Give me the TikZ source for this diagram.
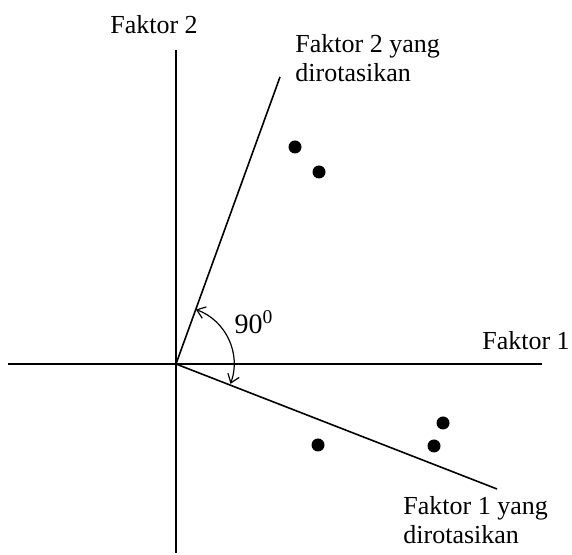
\documentclass[tikz,border=0pt]{standalone}
\usepackage{fontspec}
\setmainfont{Liberation Serif}
\usetikzlibrary{arrows.meta}
\tikzset{
    x=0.5pt, y=0.5pt,
    axis/.style={line width=1pt},
    rotaxis/.style={line width=0.8pt},
    dot/.style={circle, fill=black, inner sep=0pt, minimum size=6.5pt},
    lbl/.style={inner sep=0pt, font=\fontsize{13}{14.5}\selectfont},
    turn/.style={line width=0.6pt, {Straight Barb[length=4pt,width=6pt]}-{Straight Barb[length=4pt,width=6pt]}},
}

\begin{document}
\begin{tikzpicture}
    \useasboundingbox (0,0) rectangle (572,555);
    \coordinate (o) at (176,191);

    % axes
    \coordinate (x0) at (8,191);
    \coordinate (x1) at (542,191);
    \coordinate (y0) at (176,2);
    \coordinate (y1) at (176,505);
    \draw[axis] (x0) -- (x1);
    \draw[axis] (y0) -- (y1);

    % rotated axes
    \coordinate (r2) at (280,478);
    \coordinate (r1) at (497,66);
    \draw[rotaxis] (o) -- (r2);
    \draw[rotaxis] (o) -- (r1);

    \node[lbl]             (f2)  at (154,530) {Faktor 2};
    \node[lbl]             (f1)  at (526,214) {Faktor 1};
    \node[lbl, anchor=west, align=left] (f2r) at (295,497) {Faktor 2 yang\\dirotasikan};
    \node[lbl, anchor=west, align=left] (f1r) at (403,35) {Faktor 1 yang\\dirotasikan};

    % angle
    \draw[turn] ([shift={(70:58)}]o) arc[start angle=70, end angle=-20, radius=58];
    \node[lbl, font=\fontsize{14}{16}\selectfont] (deg) at (254,233) {90\textsuperscript{0}};

    % points
    \node[dot] (p1) at (295,408) {};
    \node[dot] (p2) at (319,383) {};
    \node[dot] (p3) at (318,110) {};
    \node[dot] (p4) at (443,132) {};
    \node[dot] (p5) at (434,109) {};
\end{tikzpicture}
\end{document}
